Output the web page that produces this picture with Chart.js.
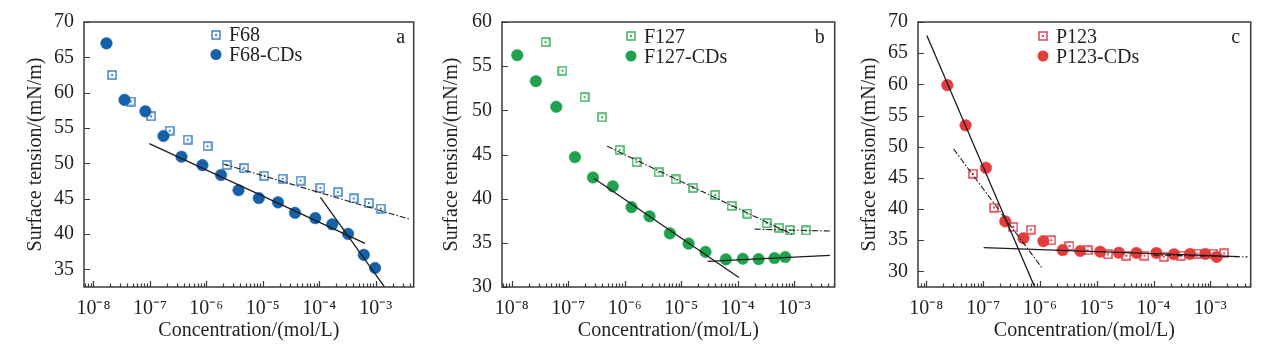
<!DOCTYPE html>
<html><head><meta charset="utf-8">
<script src="https://cdn.jsdelivr.net/npm/chart.js@4.4.1/dist/chart.umd.min.js"></script>
<style>
html,body{margin:0;padding:0;background:#fff;}
#wrap{position:relative;width:1268px;height:348px;overflow:hidden;background:#fff;}
canvas{position:absolute;top:0;}
</style></head><body>
<div id="wrap">
<canvas id="ca" width="420" height="348" style="left:0px"></canvas>
<canvas id="cb" width="423" height="348" style="left:418px"></canvas>
<canvas id="cc" width="423" height="348" style="left:834px"></canvas>
</div>
<script>
// ---------- texts & ticks ----------
const yTitle = 'Surface tension/(mN/m)';
const xTitle = 'Concentration/(mol/L)';
const xTickValues = [1e-8, 1e-7, 1e-6, 1e-5, 1e-4, 1e-3];
const xTickLabels = ['10⁻⁸', '10⁻⁷', '10⁻⁶', '10⁻⁵', '10⁻⁴', '10⁻³'];
const yTicksA = [35, 40, 45, 50, 55, 60, 65, 70];
const yTicksB = [30, 35, 40, 45, 50, 55, 60];
const yTicksC = [30, 35, 40, 45, 50, 55, 60, 65, 70];
const panelLetters = ['a', 'b', 'c'];
const seriesNames = ['F68', 'F68-CDs', 'F127', 'F127-CDs', 'P123', 'P123-CDs'];

// ---------- panel a ----------
const f68Conc = [2.14e-8, 4.57e-8, 1.05e-7, 2.24e-7, 4.68e-7, 1.05e-6, 2.29e-6, 4.68e-6, 1.07e-5, 2.24e-5, 4.68e-5, 1.05e-4, 2.14e-4, 4.07e-4, 7.59e-4, 1.23e-3];
const f68Tension = [62.5, 58.75, 56.66, 54.62, 53.36, 52.43, 49.78, 49.32, 48.25, 47.83, 47.55, 46.53, 45.92, 45.04, 44.39, 43.6];
const f68CDsConc = [1.70e-8, 3.55e-8, 8.32e-8, 1.74e-7, 3.63e-7, 8.51e-7, 1.82e-6, 3.72e-6, 8.51e-6, 1.86e-5, 3.72e-5, 8.51e-5, 1.70e-4, 3.24e-4, 6.17e-4, 9.77e-4];
const f68CDsTension = [66.98, 58.98, 57.36, 53.87, 50.94, 49.74, 48.35, 46.2, 45.09, 44.48, 43.0, 42.25, 41.37, 40.02, 37.05, 35.19];
const fitA_dashX = [2.0e-6, 4.07e-3];  const fitA_dashY = [49.9, 42.07];
const fitA_s1X = [9.77e-8, 6.46e-4];   const fitA_s1Y = [52.8, 38.67];
const fitA_s2X = [1.05e-4, 2.0e-3];    const fitA_s2Y = [45.18, 30.9];

// ---------- panel b ----------
const f127Conc = [3.98e-8, 7.94e-8, 1.95e-7, 3.98e-7, 8.13e-7, 1.62e-6, 3.98e-6, 7.94e-6, 1.62e-5, 3.98e-5, 7.76e-5, 1.48e-4, 3.24e-4, 5.37e-4, 8.32e-4, 1.62e-3];
const f127Tension = [57.73, 54.49, 51.48, 49.21, 45.52, 44.14, 42.99, 42.17, 41.24, 40.42, 39.19, 38.3, 37.22, 36.7, 36.44, 36.4];
const f127CDsConc = [1.26e-8, 2.69e-8, 6.17e-8, 1.32e-7, 2.75e-7, 6.17e-7, 1.32e-6, 2.75e-6, 6.31e-6, 1.35e-5, 2.69e-5, 6.17e-5, 1.23e-4, 2.34e-4, 4.47e-4, 6.92e-4];
const f127CDsTension = [56.24, 53.3, 50.4, 44.7, 42.4, 41.4, 39.04, 38.0, 36.07, 34.91, 33.98, 33.13, 33.2, 33.16, 33.28, 33.39];
const fitB_d1X = [4.9e-7, 1.0e-3];   const fitB_d1Y = [45.93, 35.85];
const fitB_d2X = [2.0e-4, 4.37e-3];  const fitB_d2Y = [36.55, 36.33];
const fitB_s1X = [2.88e-7, 1.05e-4]; const fitB_s1Y = [42.28, 31.08];
const fitB_s2X = [2.95e-5, 4.27e-3]; const fitB_s2Y = [32.9, 33.57];

// ---------- panel c ----------
const p123Conc = [6.6e-8, 1.55e-7, 3.39e-7, 6.92e-7, 1.58e-6, 3.31e-6, 6.92e-6, 1.58e-5, 3.31e-5, 6.92e-5, 1.51e-4, 3.02e-4, 5.89e-4, 1.12e-3, 1.74e-3];
const p123Tension = [45.67, 40.24, 37.13, 36.7, 35.0, 34.07, 33.38, 32.75, 32.53, 32.53, 32.37, 32.53, 32.85, 32.85, 32.9];
const p123CDsConc = [2.34e-8, 4.9e-8, 1.12e-7, 2.45e-7, 5.13e-7, 1.15e-6, 2.51e-6, 5.13e-6, 1.15e-5, 2.45e-5, 5.01e-5, 1.12e-4, 2.29e-4, 4.37e-4, 8.13e-4, 1.29e-3];
const p123CDsTension = [59.87, 53.43, 46.62, 38.02, 35.33, 34.86, 33.43, 33.27, 33.16, 33.0, 32.96, 32.96, 32.75, 32.8, 32.8, 32.32];
const fitC_s1X = [1.02e-8, 9.0e-7];  const fitC_s1Y = [67.84, 26.5];
const fitC_d1X = [3.02e-8, 1.07e-6]; const fitC_d1Y = [49.63, 30.63];
const fitC_s2X = [1.02e-7, 3.16e-3]; const fitC_s2Y = [33.8, 32.37];
const fitC_d2X = [1.0e-4, 4.5e-3];   const fitC_d2Y = [32.62, 32.33];

// ---------- styling ----------
const FONT = "'Liberation Serif', 'Times New Roman', serif";
const FS = 20;
const TXT = '#231f20';
const AXIS = '#3b3838';
const LINE = '#1c1c1c';
const DASHDOT = [6, 2, 1.5, 2];

function squareMarker(color) {
  const c = document.createElement('canvas');
  c.width = 10; c.height = 10;
  const g = c.getContext('2d');
  g.fillStyle = '#fff'; g.fillRect(1, 1, 8, 8);
  g.strokeStyle = color; g.lineWidth = 1.5; g.strokeRect(1, 1, 8, 8);
  g.fillStyle = color; g.fillRect(4, 4, 2, 2);
  return c;
}
const pts = (xs, ys) => xs.map((x, i) => ({x: x, y: ys[i]}));

function lineDs(xs, ys, dashed) {
  return {label: '', data: pts(xs, ys), showLine: true, pointRadius: 0, pointHoverRadius: 0,
    borderColor: LINE, borderWidth: dashed ? 1.1 : 1.3, borderDash: dashed ? DASHDOT : [], fill: false, order: 0};
}
function squareDs(name, xs, ys, color) {
  return {label: name, data: pts(xs, ys), showLine: false, pointStyle: squareMarker(color),
    pointRadius: 5, pointHoverRadius: 5, order: 2, markerColor: color};
}
function circleDs(name, xs, ys, color) {
  return {label: name, data: pts(xs, ys), showLine: false, pointStyle: 'circle',
    pointRadius: 5.8, pointHoverRadius: 5.8, backgroundColor: color, borderColor: color, borderWidth: 0.5, order: 1, markerColor: color};
}

const frameTicks = {
  id: 'frameTicks',
  afterDraw(chart) {
    const {ctx, chartArea: a, scales: {x, y}} = chart;
    ctx.save();
    ctx.strokeStyle = AXIS;
    ctx.lineWidth = 1.2;
    ctx.beginPath();
    const lo = Math.floor(Math.log10(x.min)), hi = Math.ceil(Math.log10(x.max));
    for (let n = lo; n <= hi; n++) {
      for (let k = 1; k <= 9; k++) {
        const v = k * Math.pow(10, n);
        if (v < x.min || v > x.max) continue;
        const px = Math.round(x.getPixelForValue(v)) + 0.5;
        const len = k === 1 ? 6 : 3.5;
        ctx.moveTo(px, a.bottom);
        ctx.lineTo(px, a.bottom - len);
      }
    }
    y.ticks.forEach(t => {
      const py = Math.round(y.getPixelForValue(t.value)) + 0.5;
      ctx.moveTo(a.left, py);
      ctx.lineTo(a.left + 6, py);
    });
    ctx.stroke();
    ctx.lineWidth = 1.5;
    ctx.strokeRect(a.left, a.top, a.right - a.left, a.bottom - a.top);
    ctx.restore();
  }
};

const insideLegend = {
  id: 'insideLegend',
  afterDraw(chart, args, o) {
    const {ctx, chartArea: a} = chart;
    ctx.save();
    ctx.font = FS + 'px ' + FONT;
    ctx.fillStyle = TXT;
    ctx.textAlign = 'left';
    ctx.textBaseline = 'alphabetic';
    let row = 0;
    chart.data.datasets.forEach(ds => {
      if (!ds.label) return;
      const cx = a.left + o.x, cy = o.y + row * o.dy;
      if (ds.pointStyle === 'circle') {
        ctx.beginPath();
        ctx.fillStyle = ds.markerColor;
        ctx.arc(cx, cy, 5.5, 0, Math.PI * 2);
        ctx.fill();
      } else {
        ctx.drawImage(ds.pointStyle, Math.round(cx - 5), Math.round(cy - 5));
      }
      ctx.fillStyle = TXT;
      ctx.fillText(ds.label, cx + o.gap, cy + 6.8);
      row++;
    });
    ctx.textAlign = 'center';
    ctx.fillText(o.letter, a.right - o.letterDx, 42.5);
    ctx.restore();
  }
};

function makePanel(id, cfg) {
  new Chart(document.getElementById(id), {
    type: 'scatter',
    data: {datasets: cfg.datasets},
    plugins: [frameTicks, insideLegend],
    options: {
      responsive: false,
      animation: false,
      devicePixelRatio: 1,
      events: [],
      layout: {padding: {top: 18, right: 4, left: 0, bottom: 0}},
      plugins: {
        legend: {display: false},
        tooltip: {enabled: false},
        insideLegend: cfg.legend
      },
      scales: {
        x: {
          type: 'logarithmic', position: 'bottom', bounds: 'data',
          min: cfg.xMin, max: cfg.xMax,
          afterBuildTicks: s => { s.ticks = xTickValues.map(v => ({value: v, major: true})); },
          afterFit: s => { s.height = 61; },
          grid: {display: false, drawTicks: false},
          border: {display: false},
          ticks: {autoSkip: false, maxRotation: 0, padding: 10, color: TXT,
            font: {family: FONT, size: FS},
            callback: (v, i) => xTickLabels[i]},
          title: {display: true, text: xTitle, color: TXT, font: {family: FONT, size: FS},
            padding: {top: 0, bottom: 5}}
        },
        y: {
          type: 'linear', position: 'left', bounds: 'data',
          min: cfg.yMin, max: cfg.yMax,
          afterBuildTicks: s => { s.ticks = cfg.yTicks.map(v => ({value: v})); },
          afterFit: s => { s.width = 84; },
          grid: {display: false, drawTicks: false},
          border: {display: false},
          ticks: {autoSkip: false, padding: 10, color: TXT, font: {family: FONT, size: FS}},
          title: {display: true, text: yTitle, color: TXT, font: {family: FONT, size: FS},
            padding: {top: cfg.yTitlePad, bottom: 0}}
        }
      }
    }
  });
}

makePanel('ca', {
  xMin: 6.8e-9, xMax: 4.72e-3, yMin: 32.5, yMax: 70, yTicks: yTicksA, yTitlePad: 24,
  legend: {x: 132, y: 34.5, dy: 20, gap: 13, letter: panelLetters[0], letterDx: 13},
  datasets: [
    lineDs(fitA_dashX, fitA_dashY, true),
    lineDs(fitA_s1X, fitA_s1Y, false),
    lineDs(fitA_s2X, fitA_s2Y, false),
    squareDs(seriesNames[0], f68Conc, f68Tension, '#3f83c6'),
    circleDs(seriesNames[1], f68CDsConc, f68CDsTension, '#1560a9')
  ]
});
makePanel('cb', {
  xMin: 6.76e-9, xMax: 5.19e-3, yMin: 30, yMax: 60, yTicks: yTicksB, yTitlePad: 22,
  legend: {x: 129, y: 36, dy: 20, gap: 13, letter: panelLetters[1], letterDx: 15},
  datasets: [
    lineDs(fitB_d1X, fitB_d1Y, true),
    lineDs(fitB_d2X, fitB_d2Y, true),
    lineDs(fitB_s1X, fitB_s1Y, false),
    lineDs(fitB_s2X, fitB_s2Y, false),
    squareDs(seriesNames[2], f127Conc, f127Tension, '#3bb15c'),
    circleDs(seriesNames[3], f127CDsConc, f127CDsTension, '#1fa24e')
  ]
});
makePanel('cc', {
  xMin: 7.13e-9, xMax: 5.13e-3, yMin: 27.5, yMax: 70, yTicks: yTicksC, yTitlePad: 24,
  legend: {x: 125, y: 36, dy: 20, gap: 13, letter: panelLetters[2], letterDx: 15},
  datasets: [
    lineDs(fitC_s1X, fitC_s1Y, false),
    lineDs(fitC_d1X, fitC_d1Y, true),
    lineDs(fitC_s2X, fitC_s2Y, false),
    lineDs(fitC_d2X, fitC_d2Y, true),
    squareDs(seriesNames[4], p123Conc, p123Tension, '#de4457'),
    circleDs(seriesNames[5], p123CDsConc, p123CDsTension, '#e43b3b')
  ]
});
</script>
</body></html>
